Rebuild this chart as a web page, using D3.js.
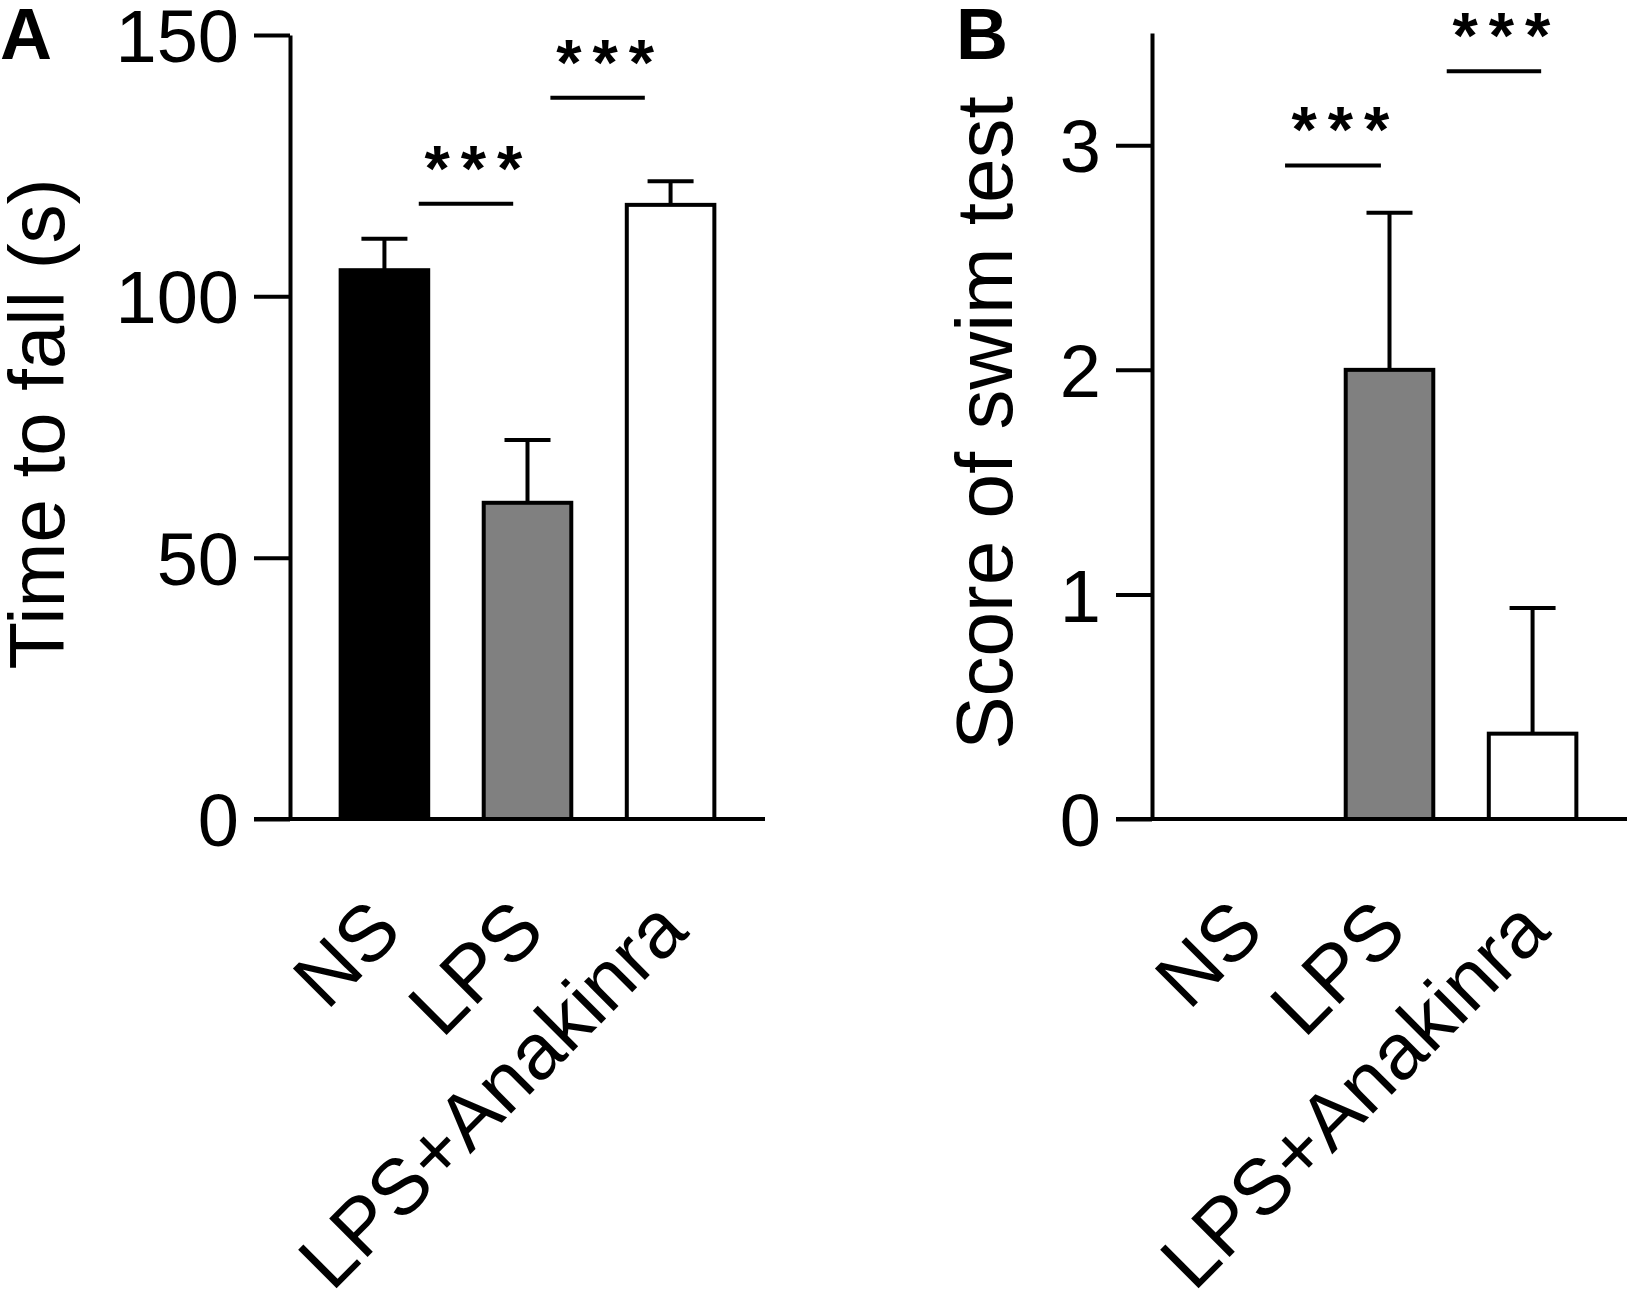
<!DOCTYPE html>
<html>
<head>
<meta charset="utf-8">
<script src="https://cdn.jsdelivr.net/npm/d3@7"></script>
<style>
    body { margin: 0; background: #fff; }
    svg { display: block; }
</style>
</head>
<body>
<div id="chart"></div>
<script>
// groups on the x axis (same for both panels)
const groups = ['NS', 'LPS', 'LPS+Anakinra'];
const barColors = ['#000000', '#808080', '#ffffff'];

// panel A : rotarod, time to fall (s)
const fallMean = [105, 60.5, 117.5];
const fallSem = [6, 12, 4.5];
const fallTicks = [0, 50, 100, 150];
// significance bars: from / to in group index units, y in data units
const fallSigFrom = [0.24, 1.16];
const fallSigTo = [0.9, 1.82];
const fallSigY = [117.7, 138];
const fallSigText = ['***', '***'];

// panel B : swim test score
const swimMean = [0, 2.0, 0.38];
const swimSem = [0, 0.7, 0.56];
const swimTicks = [0, 1, 2, 3];
const swimSigFrom = [0.27, 1.4];
const swimSigTo = [0.94, 2.06];
const swimSigY = [2.91, 3.33];
const swimSigText = ['***', '***'];

const W = 1633;
const H = 1315;
const FONT = "'Liberation Sans', Arial, Helvetica, sans-serif";

const svg = d3
    .select('#chart')
    .append('svg')
    .attr('width', W)
    .attr('height', H)
    .attr('viewBox', [0, 0, W, H])
    .attr('font-family', FONT);

svg.append('rect').attr('width', W).attr('height', H).attr('fill', '#fff');

/**
 * one bar panel with y axis, up-only error bars and significance lines
 */
const drawPanel = ({ left, right, top, bottom, yMax, mean, sem, ticks, sigFrom, sigTo, sigY, sigText, title, titleX, titleY, titleSize, letter, letterX }) => {
    const g = svg.append('g');
    const tickLen = 36;

    const x = d3.scaleBand().domain(groups).range([left, right]).paddingInner(0.36).paddingOuter(0.34);
    const y = d3.scaleLinear().domain([0, yMax]).range([bottom, top]);
    // group index -> centre of the band
    const xi = d3.scaleLinear().domain([0, 1]).range([x(groups[0]) + x.bandwidth() / 2, x(groups[1]) + x.bandwidth() / 2]);

    // y axis
    const yAxis = g
        .append('g')
        .attr('transform', `translate(${left},0)`)
        .call(d3.axisLeft(y).tickValues(ticks).tickSize(tickLen).tickSizeOuter(0).tickPadding(15).tickFormat(d3.format('d')));
    yAxis.select('.domain').attr('stroke', '#000').attr('stroke-width', 4);
    yAxis.selectAll('.tick line').attr('stroke', '#000').attr('stroke-width', 4);
    yAxis.selectAll('.tick text').attr('font-size', 74).attr('font-family', FONT).attr('fill', '#000').attr('dy', '0.36em');

    // bars
    g.selectAll('rect.bar')
        .data(groups)
        .join('rect')
        .attr('class', 'bar')
        .attr('x', (d) => x(d) + 2)
        .attr('width', x.bandwidth() - 4)
        .attr('y', (d, i) => y(mean[i]))
        .attr('height', (d, i) => y(0) - y(mean[i]))
        .attr('fill', (d, i) => barColors[i])
        .attr('stroke', '#000')
        .attr('stroke-width', 4)
        .style('display', (d, i) => (mean[i] > 0 ? null : 'none'));

    // error bars (upper half only)
    const err = g
        .selectAll('g.err')
        .data(groups.filter((d, i) => sem[i] > 0))
        .join('g')
        .attr('class', 'err')
        .attr('stroke', '#000')
        .attr('stroke-width', 4);
    const idx = (d) => groups.indexOf(d);
    const cx = (d) => x(d) + x.bandwidth() / 2;
    err.append('line')
        .attr('x1', cx)
        .attr('x2', cx)
        .attr('y1', (d) => y(mean[idx(d)]))
        .attr('y2', (d) => y(mean[idx(d)] + sem[idx(d)]));
    err.append('line')
        .attr('x1', (d) => cx(d) - 23)
        .attr('x2', (d) => cx(d) + 23)
        .attr('y1', (d) => y(mean[idx(d)] + sem[idx(d)]))
        .attr('y2', (d) => y(mean[idx(d)] + sem[idx(d)]));

    // x axis, line runs from the tick ends to the right end of the range
    g.append('line')
        .attr('x1', left - tickLen)
        .attr('x2', right)
        .attr('y1', bottom)
        .attr('y2', bottom)
        .attr('stroke', '#000')
        .attr('stroke-width', 4);

    const xAxis = g
        .append('g')
        .attr('transform', `translate(0,${bottom})`)
        .call(d3.axisBottom(x).tickSize(0));
    xAxis.select('.domain').remove();
    xAxis
        .selectAll('.tick text')
        .attr('font-size', 79)
        .attr('font-family', FONT)
        .attr('fill', '#000')
        .attr('text-anchor', 'end')
        .attr('x', 20)
        .attr('y', 115)
        .attr('dy', 0)
        .attr('transform', 'rotate(-45, 20, 115)');

    // significance lines + stars
    const sig = g.selectAll('g.sig').data(sigText).join('g').attr('class', 'sig');
    sig.append('line')
        .attr('x1', (d, i) => xi(sigFrom[i]))
        .attr('x2', (d, i) => xi(sigTo[i]))
        .attr('y1', (d, i) => y(sigY[i]))
        .attr('y2', (d, i) => y(sigY[i]))
        .attr('stroke', '#000')
        .attr('stroke-width', 4);
    sig.append('text')
        .attr('x', (d, i) => (xi(sigFrom[i]) + xi(sigTo[i])) / 2)
        .attr('y', (d, i) => y(sigY[i]) - 13)
        .attr('dx', 13)
        .attr('text-anchor', 'middle')
        .attr('font-size', 65)
        .attr('font-weight', 'bold')
        .attr('letter-spacing', 11)
        .text((d) => d);

    // axis title
    g.append('text')
        .attr('transform', `translate(${titleX},${titleY}) rotate(-90)`)
        .attr('text-anchor', 'middle')
        .attr('font-size', titleSize)
        .text(title);

    // panel letter
    g.append('text').attr('x', letterX).attr('y', 59).attr('font-size', 72).attr('font-weight', 'bold').text(letter);
};

drawPanel({
    left: 290,
    right: 765,
    top: 35,
    bottom: 819,
    yMax: 150,
    mean: fallMean,
    sem: fallSem,
    ticks: fallTicks,
    sigFrom: fallSigFrom,
    sigTo: fallSigTo,
    sigY: fallSigY,
    sigText: fallSigText,
    title: 'Time to fall (s)',
    titleX: 64,
    titleY: 424,
    titleSize: 78,
    letter: 'A',
    letterX: 0
});

drawPanel({
    left: 1152,
    right: 1627,
    top: 33,
    bottom: 819,
    yMax: 3.5,
    mean: swimMean,
    sem: swimSem,
    ticks: swimTicks,
    sigFrom: swimSigFrom,
    sigTo: swimSigTo,
    sigY: swimSigY,
    sigText: swimSigText,
    title: 'Score of swim test',
    titleX: 1012,
    titleY: 423,
    titleSize: 80,
    letter: 'B',
    letterX: 956
});
</script>
</body>
</html>
